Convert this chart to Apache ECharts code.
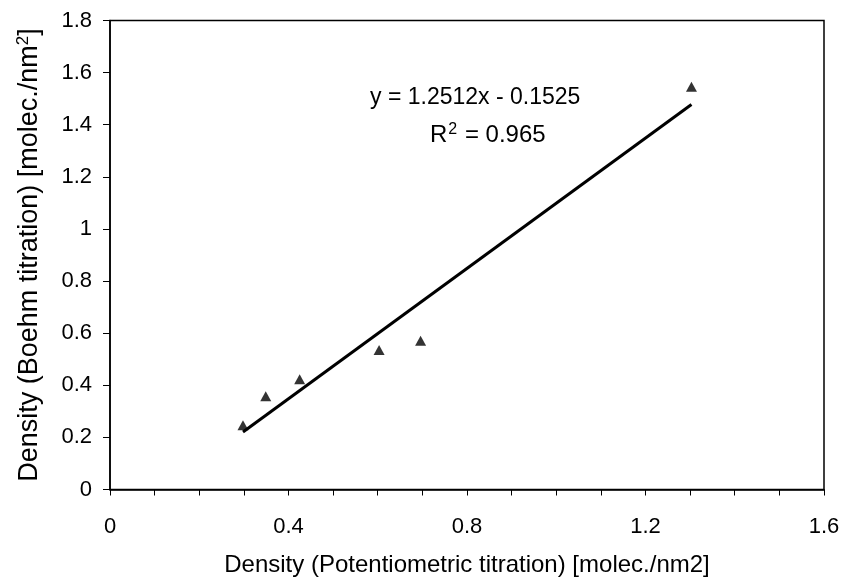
<!DOCTYPE html>
<html>
<head>
<meta charset="utf-8">
<script src="https://cdn.jsdelivr.net/npm/echarts@6/dist/echarts.min.js"></script>
<style>html,body{margin:0;padding:0;background:#fff;}#c{width:845px;height:579px;}</style>
</head>
<body>
<div id="c"></div>
<script>
var xValues = [0.298, 0.349, 0.425, 0.603, 0.696, 1.303];
var yValues = [0.247, 0.358, 0.423, 0.535, 0.571, 1.546];
var trendSlope = 1.2512;
var trendIntercept = -0.1525;
var xTicks = [0, 0.4, 0.8, 1.2, 1.6];
var yTicks = [0, 0.2, 0.4, 0.6, 0.8, 1, 1.2, 1.4, 1.6, 1.8];

var points = xValues.map(function (x, i) { return [x, yValues[i]]; });
var xMin = Math.min.apply(null, xValues), xMax = Math.max.apply(null, xValues);
var trend = [[xMin, trendSlope * xMin + trendIntercept], [xMax, trendSlope * xMax + trendIntercept]];

var FONT = 'Liberation Sans, Arial, sans-serif';
var chart = echarts.init(document.getElementById('c'), null, {renderer: 'canvas'});
chart.setOption({
  animation: false,
  backgroundColor: '#fff',
  grid: {left: 110, right: 21, top: 20.5, bottom: 89.5, containLabel: false, outerBoundsMode: 'none',
    show: true, borderColor: '#000', borderWidth: 1.5, backgroundColor: 'transparent'},
  xAxis: {
    type: 'value', min: 0, max: 1.6, interval: 0.4,
    axisLine: {show: true, onZero: false, lineStyle: {color: '#000', width: 1.5}},
    axisTick: {show: true, inside: false, length: 6, lineStyle: {color: '#000'}},
    minorTick: {show: true, splitNumber: 4, length: 6, lineStyle: {color: '#000'}},
    splitLine: {show: false},
    axisLabel: {color: '#000', fontSize: 22, fontFamily: FONT, margin: 26,
      formatter: function (v) { return xTicks.indexOf(+v.toFixed(2)) >= 0 ? String(+v.toFixed(2)) : ''; }},
    name: 'Density (Potentiometric titration) [molec./nm2]',
    nameLocation: 'middle', nameGap: 64,
    nameTextStyle: {color: '#000', fontSize: 24, fontFamily: FONT}
  },
  yAxis: {
    type: 'value', min: 0, max: 1.8, interval: 0.2,
    axisLine: {show: true, onZero: false, lineStyle: {color: '#000', width: 1.5}},
    axisTick: {show: true, inside: false, length: 7, lineStyle: {color: '#000'}},
    splitLine: {show: false},
    axisLabel: {color: '#000', fontSize: 22, fontFamily: FONT, margin: 18,
      formatter: function (v) { return yTicks.indexOf(+v.toFixed(2)) >= 0 ? String(+v.toFixed(2)) : ''; }},
    name: '{n|Density (Boehm titration) [molec./nm}{s|2}{n|]}',
    nameLocation: 'middle', nameGap: 66, nameRotate: 90,
    nameTextStyle: {color: '#000', fontFamily: FONT,
      rich: {n: {fontSize: 27, fontFamily: FONT, color: '#000'},
             s: {fontSize: 17, fontFamily: FONT, color: '#000', verticalAlign: 'top', padding: [0, 0, 12, 0]}}}
  },
  series: [
    {type: 'line', data: trend, symbol: 'none', lineStyle: {color: '#000', width: 3}, z: 2, silent: true},
    {type: 'scatter', data: points, symbol: 'triangle', symbolSize: [11, 10], itemStyle: {color: '#000'}, z: 3}
  ],
  graphic: [
    {type: 'text', left: 370, top: 86, style: {text: 'y = 1.2512x - 0.1525', fontSize: 23, fontFamily: FONT, fill: '#000'}},
    {type: 'text', left: 430, top: 122, style: {
      text: '{n|R}{s|2}{n| = 0.965}',
      rich: {n: {fontSize: 24, fontFamily: FONT, fill: '#000', color: '#000'},
             s: {fontSize: 16, fontFamily: FONT, fill: '#000', color: '#000', verticalAlign: 'top', padding: [0, 1, 10, 1]}}}}
  ]
});
</script>
</body>
</html>
